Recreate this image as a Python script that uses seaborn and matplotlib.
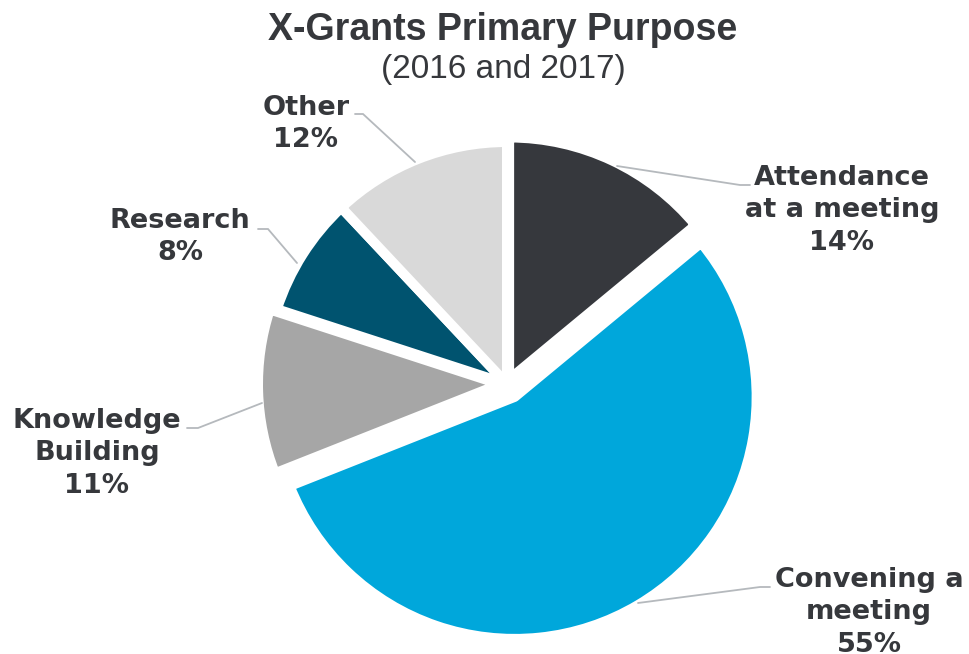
import matplotlib
matplotlib.use("Agg")
import matplotlib.pyplot as plt
import seaborn as sns

# Share of X-Grants by primary purpose, 2016 and 2017
categories = ["Attendance\nat a meeting", "Convening a\nmeeting", "Knowledge\nBuilding", "Research", "Other"]
shares = [14, 55, 11, 8, 12]
slice_colors = ["#36383d", "#00a7db", "#a6a6a6", "#00536f", "#d9d9d9"]

title = "X-Grants Primary Purpose"
subtitle = "(2016 and 2017)"

sns.set_theme(style="white")
plt.rcParams["font.family"] = ["Liberation Sans", "DejaVu Sans"]

W, H = 969, 654
fig = plt.figure(figsize=(W / 100, H / 100), dpi=100)
ax = fig.add_axes([0, 0, 1, 1])

TEXT = "#36383c"
LINE = "#b5b9bd"


def py(y):
    """Convert a top-down pixel row into the axes' bottom-up y."""
    return H - y


palette = sns.color_palette(slice_colors)
# offsets are in axes data units (pixels here)
explode = [5, 15, 7, 0, 0]
ax.pie(
    shares,
    colors=palette,
    startangle=90,
    counterclock=False,
    center=(507, py(384)),
    radius=242,
    explode=explode,
    wedgeprops=dict(edgecolor="white", linewidth=7.2, joinstyle="round"),
)
ax.set_xlim(0, W)
ax.set_ylim(0, H)
ax.set_aspect("equal")
ax.axis("off")

# Title block
fig.text(503 / W, 1 - 40 / H, title, ha="center", va="baseline",
         fontsize=27, fontweight="bold", color=TEXT)
fig.text(503 / W, 1 - 78 / H, subtitle, ha="center", va="baseline",
         fontsize=24, color=TEXT)

# Label positions (x centre, first baseline) and leader lines
label_pos = [(842, 185), (869, 587), (97, 428), (180, 228), (306, 115)]
leaders = [
    [(617, 166), (740, 185), (750, 185)],
    [(638, 603), (760, 587), (770, 587)],
    [(262, 403), (198, 428), (187, 428)],
    [(297, 263), (268, 229), (258, 229)],
    [(415, 162), (363, 114), (355, 114)],
]

for name, val, (lx, ly), pts in zip(categories, shares, label_pos, leaders):
    lines = name.split("\n") + [f"{val}%"]
    for i, line in enumerate(lines):
        ax.text(lx, py(ly + i * 32.3), line, ha="center", va="baseline",
                fontsize=19.5, fontweight="bold", color=TEXT,
                family=["DejaVu Sans"])
    xs = [p[0] for p in pts]
    ys = [py(p[1]) for p in pts]
    ax.plot(xs, ys, color=LINE, lw=1.3, solid_joinstyle="miter")

fig.savefig("out.png", dpi=100, facecolor="white")
